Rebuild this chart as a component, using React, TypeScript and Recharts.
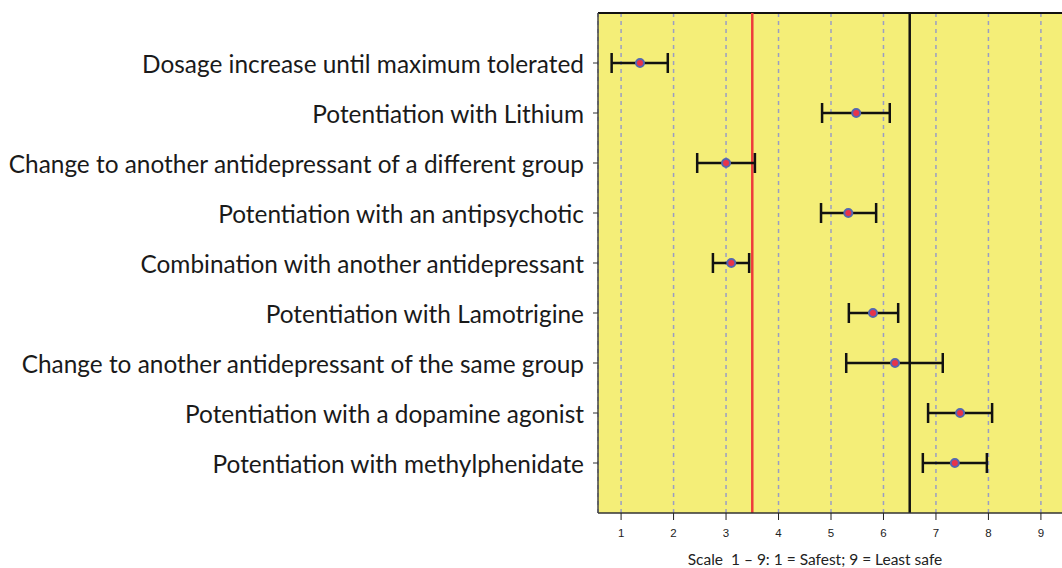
import {
  ComposedChart,
  Scatter,
  ErrorBar,
  XAxis,
  YAxis,
  CartesianGrid,
  ReferenceLine,
} from "recharts";

// options listed top to bottom
const options = [
  "Dosage increase until maximum tolerated",
  "Potentiation with Lithium",
  "Change to another antidepressant of a different group",
  "Potentiation with an antipsychotic",
  "Combination with another antidepressant",
  "Potentiation with Lamotrigine",
  "Change to another antidepressant of the same group",
  "Potentiation with a dopamine agonist",
  "Potentiation with methylphenidate",
];
const means = [1.36, 5.48, 3.0, 5.33, 3.1, 5.8, 6.22, 7.46, 7.36];
const lows = [0.82, 4.83, 2.45, 4.81, 2.75, 5.34, 5.29, 6.85, 6.75];
const highs = [1.89, 6.12, 3.55, 5.86, 3.44, 6.28, 7.13, 8.07, 7.97];
const scaleTicks = [1, 2, 3, 4, 5, 6, 7, 8, 9];
const lowerCut = 3.5;
const upperCut = 6.5;

const rowPos = options.map((_, i) => options.length - i);
const data = options.map((name, i) => ({
  name,
  x: means[i],
  y: rowPos[i],
  err: [means[i] - lows[i], highs[i] - means[i]],
}));

const LABEL_FONT = "Lato, 'Open Sans', sans-serif";

function OptionTick(props: any) {
  const { x, y, payload } = props;
  const idx = rowPos.indexOf(payload.value);
  if (idx < 0) return null;
  return (
    <text
      x={x - 7}
      y={y}
      textAnchor="end"
      dominantBaseline="central"
      fontFamily={LABEL_FONT}
      fontSize={24.4}
      fill="#1a1a1a"
    >
      {options[idx]}
    </text>
  );
}

function Marker(props: any) {
  const { cx, cy } = props;
  return <circle cx={cx} cy={cy} r={4} fill="#e8334a" stroke="#5566b0" strokeWidth={2} />;
}

export default function App() {
  return (
    <div
      style={{
        position: "fixed",
        left: 0,
        top: 0,
        width: 1062,
        height: 568,
        overflow: "hidden",
        background: "#fff",
      }}
    >
      <ComposedChart
        width={1070}
        height={568}
        data={data}
        margin={{ top: 13, right: 6, bottom: 0, left: 0 }}
      >
        <CartesianGrid
          horizontal={false}
          fill="#f4ee78"
          fillOpacity={1}
          stroke="#9a9ec4"
          strokeWidth={1.5}
          strokeDasharray="4 4"
        />
        <XAxis
          type="number"
          dataKey="x"
          domain={[0.56, 9.44]}
          ticks={scaleTicks}
          allowDataOverflow
          height={55}
          tickSize={7}
          tickMargin={9}
          tickLine={{ stroke: "#222" }}
          axisLine={{ stroke: "#333", strokeWidth: 1.5 }}
          tick={{ fontSize: 11.5, fill: "#222", fontFamily: "'Liberation Sans', Arial, sans-serif" }}
          label={{
            value: "Scale\u00a0 1 – 9: 1 = Safest; 9 = Least safe",
            position: "insideBottom",
            offset: 3,
            dx: -16,
            fontSize: 15.5,
            fill: "#222",
            fontFamily: LABEL_FONT,
          }}
        />
        <YAxis
          type="number"
          dataKey="y"
          domain={[0, 10]}
          ticks={rowPos}
          width={598}
          tickSize={5}
          tickLine={{ stroke: "#333" }}
          axisLine={{ stroke: "#444", strokeWidth: 1.5 }}
          tick={<OptionTick />}
        />
        <ReferenceLine y={10} stroke="#111" strokeWidth={2} />
        <ReferenceLine x={lowerCut} stroke="#ee3b3b" strokeWidth={2.5} />
        <ReferenceLine x={upperCut} stroke="#111" strokeWidth={2.5} />
        <Scatter dataKey="y" shape={<Marker />} isAnimationActive={false}>
          <ErrorBar
            dataKey="err"
            direction="x"
            width={10}
            stroke="#111"
            strokeWidth={2.5}
            isAnimationActive={false}
          />
        </Scatter>
      </ComposedChart>
    </div>
  );
}
